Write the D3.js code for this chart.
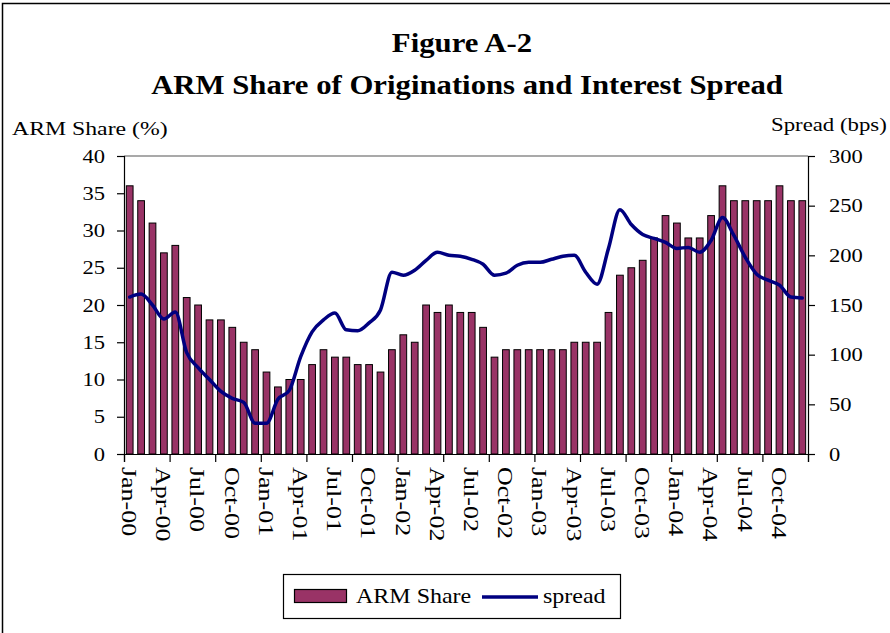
<!DOCTYPE html>
<html>
<head>
<meta charset="utf-8">
<script src="https://cdn.jsdelivr.net/npm/d3@7"></script>
<style>
  html, body { margin: 0; padding: 0; background: #fff; }
  svg { display: block; }
  text { font-family: "Liberation Serif", "Times New Roman", serif; fill: #000; }
</style>
</head>
<body>
<svg id="chart" width="890" height="633"></svg>
<script>
// ---------------- DATA ----------------
const months = [
  "Jan-00","Feb-00","Mar-00","Apr-00","May-00","Jun-00","Jul-00","Aug-00","Sep-00","Oct-00","Nov-00","Dec-00",
  "Jan-01","Feb-01","Mar-01","Apr-01","May-01","Jun-01","Jul-01","Aug-01","Sep-01","Oct-01","Nov-01","Dec-01",
  "Jan-02","Feb-02","Mar-02","Apr-02","May-02","Jun-02","Jul-02","Aug-02","Sep-02","Oct-02","Nov-02","Dec-02",
  "Jan-03","Feb-03","Mar-03","Apr-03","May-03","Jun-03","Jul-03","Aug-03","Sep-03","Oct-03","Nov-03","Dec-03",
  "Jan-04","Feb-04","Mar-04","Apr-04","May-04","Jun-04","Jul-04","Aug-04","Sep-04","Oct-04","Nov-04","Dec-04"
];
const armShare = [
  36,34,31,27,28,21,20,18,18,17,15,14,
  11,9,10,10,12,14,13,13,12,12,11,14,
  16,15,20,19,20,19,19,17,13,14,14,14,
  14,14,14,15,15,15,19,24,25,26,29,32,
  31,29,29,32,36,34,34,34,34,36,34,34
];
const spread = [
  158,161,150,136,143,102,87,75,63,56,52,31,
  31,55,64,98,123,135,142,125,124,132,145,183,
  180,185,195,203,200,199,196,191,180,182,190,193,
  193,196,199,200,183,171,207,246,231,221,217,213,
  207,208,203,215,238,220,198,181,175,170,158,157
];
const leftTicks = [0,5,10,15,20,25,30,35,40];
const rightTicks = [0,50,100,150,200,250,300];
const titleLines = ["Figure A-2", "ARM Share of Originations and Interest Spread"];
const leftAxisTitle = "ARM Share (%)";
const rightAxisTitle = "Spread (bps)";
const legendLabels = ["ARM Share", "spread"];

// ---------------- LAYOUT ----------------
const svg = d3.select("#chart");
const L = 124, R = 808, T = 156, B = 454;
const barColor = "#993366", lineColor = "#000080";

// outer chart border
svg.append("rect").attr("x", 2.5).attr("y", 3.5).attr("width", 1000).attr("height", 1000)
  .attr("fill", "none").attr("stroke", "#000").attr("stroke-width", 1.5);

const x = d3.scaleBand().domain(months).range([L, R]).paddingInner(0.41).paddingOuter(0.205);
const xi = d3.scaleLinear().domain([0, months.length]).range([L, R]);
const yL = d3.scaleLinear().domain([0, 40]).range([B, T]);
const yR = d3.scaleLinear().domain([0, 300]).range([B, T]);

function stext(g, str, px, py, size, sx, anchor, weight) {
  return g.append("text")
    .attr("transform", `translate(${px},${py}) scale(${sx},1)`)
    .attr("text-anchor", anchor || "start")
    .attr("font-size", size)
    .attr("font-weight", weight || "normal")
    .text(str);
}

// titles
stext(svg, titleLines[0], 462, 52, 26.5, 1.16, "middle", "bold");
stext(svg, titleLines[1], 467, 93.5, 26.5, 1.16, "middle", "bold");
stext(svg, leftAxisTitle, 12, 135, 19, 1.25, "start");
stext(svg, rightAxisTitle, 771, 131, 19, 1.2, "start");

// plot frame top line
svg.append("line").attr("x1", L).attr("x2", R).attr("y1", T).attr("y2", T)
  .attr("stroke", "#555").attr("stroke-width", 1.2);

// bars
svg.append("g").selectAll("rect").data(armShare).join("rect")
  .attr("x", (d, i) => x(months[i]))
  .attr("y", d => yL(d))
  .attr("width", x.bandwidth())
  .attr("height", d => yL(0) - yL(d))
  .attr("fill", barColor)
  .attr("stroke", "#000")
  .attr("stroke-width", 1);

// left axis
const gl = svg.append("g").attr("transform", `translate(${L},0)`)
  .call(d3.axisLeft(yL).tickValues(leftTicks).tickSize(7).tickFormat(""));
gl.selectAll("path, line").attr("stroke", "#000").attr("stroke-width", 1.2);
leftTicks.forEach(v => stext(svg, String(v), 105, yL(v) + 6.5, 18.5, 1.22, "end"));

// right axis
const gr = svg.append("g").attr("transform", `translate(${R},0)`)
  .call(d3.axisRight(yR).tickValues(rightTicks).tickSize(7).tickFormat(""));
gr.selectAll("path, line").attr("stroke", "#000").attr("stroke-width", 1.2);
rightTicks.forEach(v => stext(svg, String(v), 829, yR(v) + 6.5, 18.5, 1.22, "start"));

// bottom axis (ticks every 4 categories)
const gb = svg.append("g").attr("transform", `translate(0,${B})`)
  .call(d3.axisBottom(xi).tickValues(d3.range(0, months.length + 1, 4)).tickSize(8).tickFormat(""));
gb.selectAll("path, line").attr("stroke", "#000").attr("stroke-width", 1.2);

// x labels every 3 months, rotated
months.forEach((m, i) => {
  if (i % 3 !== 0) return;
  const cx = x(m) + x.bandwidth() / 2;
  svg.append("text")
    .attr("transform", `translate(${cx},467) rotate(90) scale(1.18,1)`)
    .attr("dy", "0.35em")
    .attr("font-size", 22)
    .text(m);
});

// spread line
const line = d3.line()
  .x((d, i) => x(months[i]) + x.bandwidth() / 2)
  .y(d => yR(d))
  .curve(d3.curveMonotoneX);
svg.append("path").datum(spread).attr("d", line)
  .attr("fill", "none").attr("stroke", lineColor).attr("stroke-width", 3.5)
  .attr("stroke-linejoin", "round").attr("stroke-linecap", "round");

// legend
const lg = svg.append("g");
lg.append("rect").attr("x", 283.5).attr("y", 574.5).attr("width", 337).attr("height", 44)
  .attr("fill", "#fff").attr("stroke", "#000").attr("stroke-width", 1.2);
lg.append("rect").attr("x", 294.5).attr("y", 589.5).attr("width", 52).attr("height", 13)
  .attr("fill", barColor).attr("stroke", "#000").attr("stroke-width", 1.2);
stext(lg, legendLabels[0], 356, 603, 20, 1.2, "start");
lg.append("line").attr("x1", 482).attr("x2", 538).attr("y1", 597).attr("y2", 597)
  .attr("stroke", lineColor).attr("stroke-width", 3.5);
stext(lg, legendLabels[1], 543, 603, 20, 1.2, "start");
</script>
</body>
</html>
